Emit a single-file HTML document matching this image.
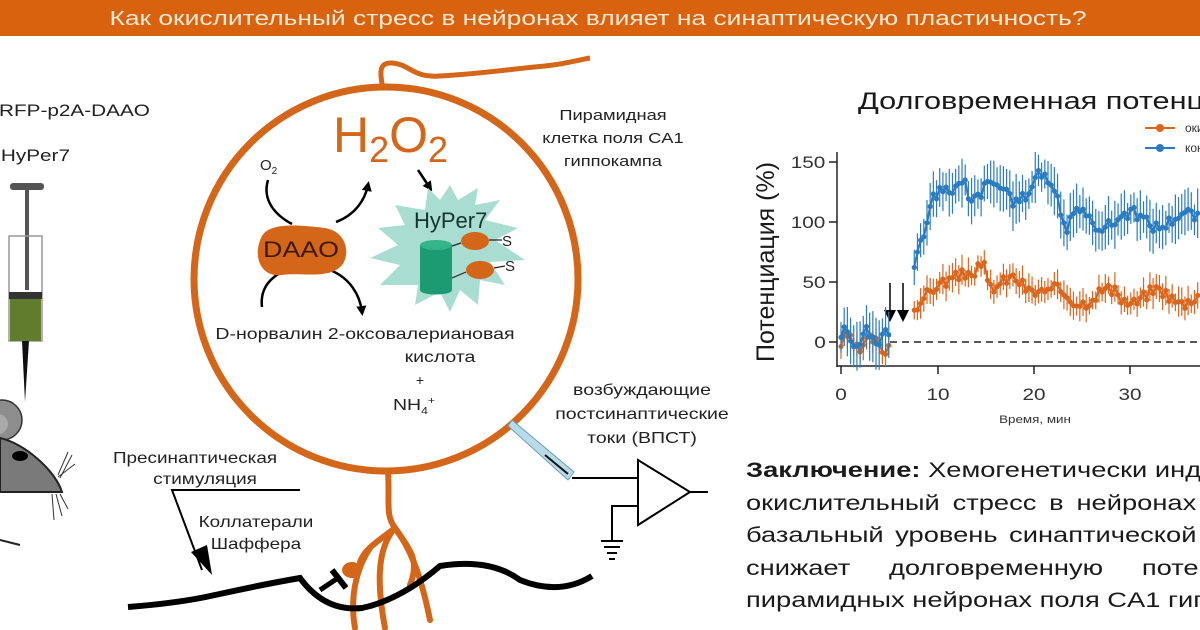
<!DOCTYPE html>
<html><head><meta charset="utf-8"><style>
html,body{margin:0;padding:0;width:1200px;height:630px;overflow:hidden;background:#fff}
svg{display:block;font-family:"Liberation Sans",sans-serif}
.w{transform-box:fill-box;transform-origin:center;transform:scaleX(1.22)}
.wl{transform-box:fill-box;transform-origin:left;transform:scaleX(1.28)}
.clip{position:absolute;left:746px;top:455px;width:454px;height:175px;overflow:hidden}
.concl{position:absolute;left:0;top:0;width:600px;font:21px/32.5px "Liberation Sans",sans-serif;color:#1a1a1a;text-align:justify;white-space:nowrap;transform:scaleX(1.3);transform-origin:0 0}
.concl div{height:32.5px}
</style></head><body>
<svg id="s" width="1200" height="630" viewBox="0 0 1200 630">
<defs>
<marker id="ah" markerWidth="10" markerHeight="10" refX="6" refY="5" orient="auto" markerUnits="userSpaceOnUse"><path d="M0,0 L10,5 L0,10 z" fill="#000"/></marker>
</defs>
<rect x="0" y="0" width="1200" height="36" fill="#d9620f"/>
<text class="w" style="transform:scaleX(1.32)" x="598" y="25" font-size="20" fill="#fbead6" text-anchor="middle">Как окислительный стресс в нейронах влияет на синаптическую пластичность?</text>

<text class="w" x="71" y="116" font-size="17" fill="#222" text-anchor="middle">-RFP-p2A-DAAO</text>
<text class="w" x="32" y="161" font-size="17" fill="#222" text-anchor="middle">-HyPer7</text>
<rect x="10" y="183" width="34" height="7" rx="3" fill="#555"/>
<rect x="25" y="190" width="4" height="100" fill="#555"/>
<rect x="9" y="236" width="33" height="105" fill="none" stroke="#999" stroke-width="1.5"/>
<rect x="9" y="292" width="33" height="7" fill="#333"/>
<rect x="10" y="299" width="31" height="42" fill="#5f7d2c"/>
<polygon points="22,341 29,341 25,402" fill="#111"/>
<circle cx="2" cy="420" r="20" fill="#8d8d8d" stroke="#333" stroke-width="1.5"/>
<circle cx="-2" cy="424" r="10" fill="#aaa"/>
<path d="M0,438 C25,444 55,470 62,492 L0,492 z" fill="#7a7a7a" stroke="#222" stroke-width="2"/>
<ellipse cx="20" cy="456" rx="8" ry="5" fill="#000"/>
<g stroke="#333" stroke-width="1"><line x1="58" y1="475" x2="68" y2="452"/><line x1="58" y1="477" x2="75" y2="464"/><line x1="60" y1="478" x2="72" y2="455"/><line x1="52" y1="494" x2="54" y2="520"/><line x1="56" y1="494" x2="62" y2="516"/><line x1="60" y1="494" x2="68" y2="509"/></g>
<line x1="0" y1="540" x2="20" y2="545" stroke="#222" stroke-width="2"/>

<circle cx="386" cy="279" r="192" fill="none" stroke="#d4661a" stroke-width="7"/>
<path d="M383,88 C380,75 378,62 392,63 C410,64 412,78 440,76 C480,74 520,68 545,66 C565,64 578,60 590,58" fill="none" stroke="#d4661a" stroke-width="5"/>
<g fill="none" stroke="#d4661a" stroke-width="6" stroke-linecap="round">
<path d="M388,472 C390,500 385,515 395,528 C408,545 420,570 430,620"/>
<path d="M395,528 C380,540 365,548 360,562"/>
<path d="M395,528 C375,550 378,590 385,628"/>
<path d="M395,528 C410,550 420,560 410,585"/>
<path d="M370,548 C355,570 350,600 355,628"/>
</g>
<ellipse cx="352" cy="570" rx="10" ry="8" fill="#d4661a"/>
<path d="M128,607 Q180,603 215,595 Q260,585 300,578 Q325,612 362,608 Q400,600 440,566 Q490,558 520,580 Q560,596 592,576" fill="none" stroke="#000" stroke-width="6"/>
<path d="M320,590 L338,578" stroke="#000" stroke-width="5"/>
<path d="M332,570 L346,588" stroke="#000" stroke-width="6"/>
<text class="w" x="195" y="463" font-size="15.5" fill="#222" text-anchor="middle">Пресинаптическая</text>
<text class="w" x="205" y="484" font-size="15.5" fill="#222" text-anchor="middle">стимуляция</text>
<polyline points="300,490 172,490 202,570" fill="none" stroke="#000" stroke-width="2"/>
<polygon points="191,552 212,575 207,545" fill="#000"/>
<text class="w" x="256" y="527" font-size="15.5" fill="#222" text-anchor="middle">Коллатерали</text>
<text class="w" x="256" y="549" font-size="15.5" fill="#222" text-anchor="middle">Шаффера</text>

<text x="333" y="152" font-size="50" fill="#d4661a">H<tspan font-size="36" dy="10">2</tspan><tspan dy="-10">O</tspan><tspan font-size="36" dy="10">2</tspan></text>
<text x="260" y="170" font-size="15" fill="#222">O<tspan font-size="10" dy="4">2</tspan></text>
<path d="M268,180 C262,200 275,215 292,224" fill="none" stroke="#000" stroke-width="2.5"/>
<path d="M336,222 C355,215 365,200 368,185" fill="none" stroke="#000" stroke-width="2.5" marker-end="url(#ah)"/>
<path d="M262,307 C260,290 268,278 286,270" fill="none" stroke="#000" stroke-width="2.5"/>
<path d="M330,270 C350,278 360,295 362,312" fill="none" stroke="#000" stroke-width="2.5" marker-end="url(#ah)"/>
<path d="M262,236 C270,222 300,225 325,228 C348,232 350,255 342,265 C330,280 300,272 282,275 C260,278 252,255 262,236 z" fill="#d4661a"/>
<text class="w" x="301" y="257" font-size="22" fill="#3a1a05" text-anchor="middle">DAAO</text>
<line x1="418" y1="170" x2="430" y2="188" stroke="#000" stroke-width="2.5" marker-end="url(#ah)"/>
<polygon points="450,185 458,200 478,188 475,205 500,200 485,220 518,228 495,240 525,260 490,262 505,285 480,280 478,305 460,290 450,312 440,292 415,305 418,285 380,285 400,265 370,258 398,245 378,228 405,225 395,205 425,210 428,188 440,200" fill="#a9ddd2"/>
<text x="414" y="228" font-size="22" fill="#14352e">HyPer7</text>
<path d="M420,245 L420,290 C420,296 452,296 452,290 L452,245 z" fill="#1c9b72"/>
<ellipse cx="436" cy="245" rx="16" ry="5" fill="#36b58a"/>
<ellipse cx="475" cy="241" rx="14" ry="9" fill="#d4661a"/>
<ellipse cx="480" cy="270" rx="14" ry="9" fill="#d4661a"/>
<path d="M452,246 L461,243 M452,278 L466,272 M489,240 L502,240 M494,268 L505,266" stroke="#222" stroke-width="1.2"/>
<text x="502" y="246" font-size="15" fill="#222">S</text>
<text x="505" y="271" font-size="15" fill="#222">S</text>
<text class="w" x="365" y="339" font-size="16" fill="#222" text-anchor="middle">D-норвалин 2-оксовалериановая</text>
<text class="w" x="440" y="362" font-size="16" fill="#222" text-anchor="middle">кислота</text>
<text x="420" y="385" font-size="14" fill="#222" text-anchor="middle">+</text>
<text class="w" x="414" y="410" font-size="16" fill="#222" text-anchor="middle">NH<tspan font-size="10" dy="4">4</tspan><tspan font-size="10" dy="-10">+</tspan></text>
<text class="w" x="613" y="120" font-size="15" fill="#222" text-anchor="middle">Пирамидная</text>
<text class="w" x="613" y="143" font-size="15" fill="#222" text-anchor="middle">клетка поля CA1</text>
<text class="w" x="613" y="166" font-size="15" fill="#222" text-anchor="middle">гиппокампа</text>
<text class="w" x="642" y="395" font-size="16" fill="#222" text-anchor="middle">возбуждающие</text>
<text class="w" x="642" y="419" font-size="16" fill="#222" text-anchor="middle">постсинаптические</text>
<text class="w" x="642" y="443" font-size="16" fill="#222" text-anchor="middle">токи (ВПСТ)</text>
<polygon points="512,420 508,426 568,480 574,472" fill="#b9dbe8" stroke="#6a9fb5" stroke-width="1"/>
<line x1="545" y1="455" x2="568" y2="474" stroke="#111" stroke-width="2"/>
<polyline points="572,478 638,478" fill="none" stroke="#000" stroke-width="2"/>
<polygon points="638,460 638,525 690,492" fill="#fff" stroke="#000" stroke-width="2"/>
<line x1="690" y1="492" x2="708" y2="492" stroke="#000" stroke-width="2"/>
<polyline points="638,506 612,506 612,540" fill="none" stroke="#000" stroke-width="2"/>
<g stroke="#000" stroke-width="2"><line x1="601" y1="541" x2="623" y2="541"/><line x1="604" y1="547" x2="620" y2="547"/><line x1="607" y1="553" x2="617" y2="553"/><line x1="609" y1="559" x2="615" y2="559"/></g>

<text class="wl" x="858" y="109" font-size="24" fill="#1a1a1a">Долговременная потенциация</text>
<line x1="1145" y1="128" x2="1175" y2="128" stroke="#d9661c" stroke-width="2"/><circle cx="1160" cy="128" r="4" fill="#d9661c"/>
<line x1="1145" y1="148" x2="1175" y2="148" stroke="#2a7bbf" stroke-width="2"/><circle cx="1160" cy="148" r="4" fill="#2a7bbf"/>
<text x="1185" y="132" font-size="12" fill="#333">окислительный стресс</text>
<text x="1185" y="152" font-size="12" fill="#333">контроль</text>
<text transform="translate(774,262) rotate(-90)" font-size="25" fill="#1a1a1a" text-anchor="middle">Потенциация (%)</text>
<g stroke="#222" stroke-width="1.5">
<line x1="837" y1="152" x2="837" y2="367"/><line x1="837" y1="366" x2="1200" y2="366"/>
<line x1="829" y1="162" x2="837" y2="162"/><line x1="829" y1="222" x2="837" y2="222"/><line x1="829" y1="282" x2="837" y2="282"/><line x1="829" y1="342" x2="837" y2="342"/>
<line x1="841" y1="366" x2="841" y2="374"/><line x1="938" y1="366" x2="938" y2="374"/><line x1="1034" y1="366" x2="1034" y2="374"/><line x1="1130" y1="366" x2="1130" y2="374"/>
</g>
<line x1="890" y1="342" x2="1200" y2="342" stroke="#222" stroke-width="1.5" stroke-dasharray="7,5"/>
<g font-size="17" fill="#333" text-anchor="middle"><text class="w" x="808" y="168">150</text><text class="w" x="808" y="228">100</text><text class="w" x="814" y="288">50</text><text class="w" x="820" y="348">0</text></g>
<g font-size="17" fill="#333" text-anchor="middle"><text class="w" x="841" y="400">0</text><text class="w" x="938" y="400">10</text><text class="w" x="1034" y="400">20</text><text class="w" x="1130" y="400">30</text></g>
<text class="w" x="1035" y="423" font-size="11" fill="#333" text-anchor="middle">Время, мин</text>
<g stroke="#000" stroke-width="1.5"><line x1="890" y1="283" x2="890" y2="312"/><line x1="903" y1="283" x2="903" y2="312"/></g>
<polygon points="884,310 896,310 890,322" fill="#000"/><polygon points="897,310 909,310 903,322" fill="#000"/>
<g id="data"></g>
</svg>
<div class="clip"><div class="concl">
<div><b>Заключение:</b> Хемогенетически индуцированный</div>
<div style="word-spacing:4px">окислительный стресс в нейронах не влияет на</div>
<div style="word-spacing:3px">базальный уровень синаптической передачи, но</div>
<div style="word-spacing:24px">снижает долговременную потенциацию в</div>
<div>пирамидных нейронах поля CA1 гиппокампа.</div>
</div></div>
<script>
(function(){
var g=document.getElementById('data'),NS='http://www.w3.org/2000/svg';
function X(t){return 841+t*9.65}function Y(v){return 342-v*1.2}
var seed=3;function r(){seed=(seed*9301+49297)%233280;return seed/233280-0.5}
function blue(t){if(t<5)return 4+8*Math.sin(t*3);if(t<7.5)return null;if(t<9.5)return 60+(t-7.5)*30;if(t<13)return 122+(t-9.5)*3;if(t<22)return 125+8*Math.sin(t*1.3)+(t>20?8:0);if(t<23.5)return 128-(t-22)*25;return 102+6*Math.sin(t*1.1);}
function orng(t){if(t<5)return -2+5*Math.sin(t*2.5);if(t<7.5)return null;if(t<10)return 28+(t-7.5)*8;if(t<15)return 48+(t-10)*3;if(t<21)return 52-(t-15)*1.2+5*Math.sin(t*1.5);return 38+6*Math.sin(t*1.2);}
function series(f,col,err){var pts=[];for(var t=0;t<=37;t+=0.33){var v=f(t);if(v===null){if(pts.length){draw(pts,col);pts=[]}continue}v+=r()*10;pts.push([X(t),Y(v)]);
var l=document.createElementNS(NS,'line');var e=err*(0.7+Math.abs(r())*1.2);l.setAttribute('x1',X(t));l.setAttribute('x2',X(t));l.setAttribute('y1',Y(v)-e);l.setAttribute('y2',Y(v)+e);l.setAttribute('stroke',col);l.setAttribute('stroke-width','1.2');g.appendChild(l);}
draw(pts,col);}
function draw(pts,col){var p=document.createElementNS(NS,'polyline');p.setAttribute('points',pts.map(function(a){return a.join(',')}).join(' '));p.setAttribute('fill','none');p.setAttribute('stroke',col);p.setAttribute('stroke-width','2');g.appendChild(p);
pts.forEach(function(a){var c=document.createElementNS(NS,'circle');c.setAttribute('cx',a[0]);c.setAttribute('cy',a[1]);c.setAttribute('r','2.6');c.setAttribute('fill',col);g.appendChild(c);});}
series(orng,'#d9661c',12);series(blue,'#2a7bbf',20);
})();
</script>
</body></html>
